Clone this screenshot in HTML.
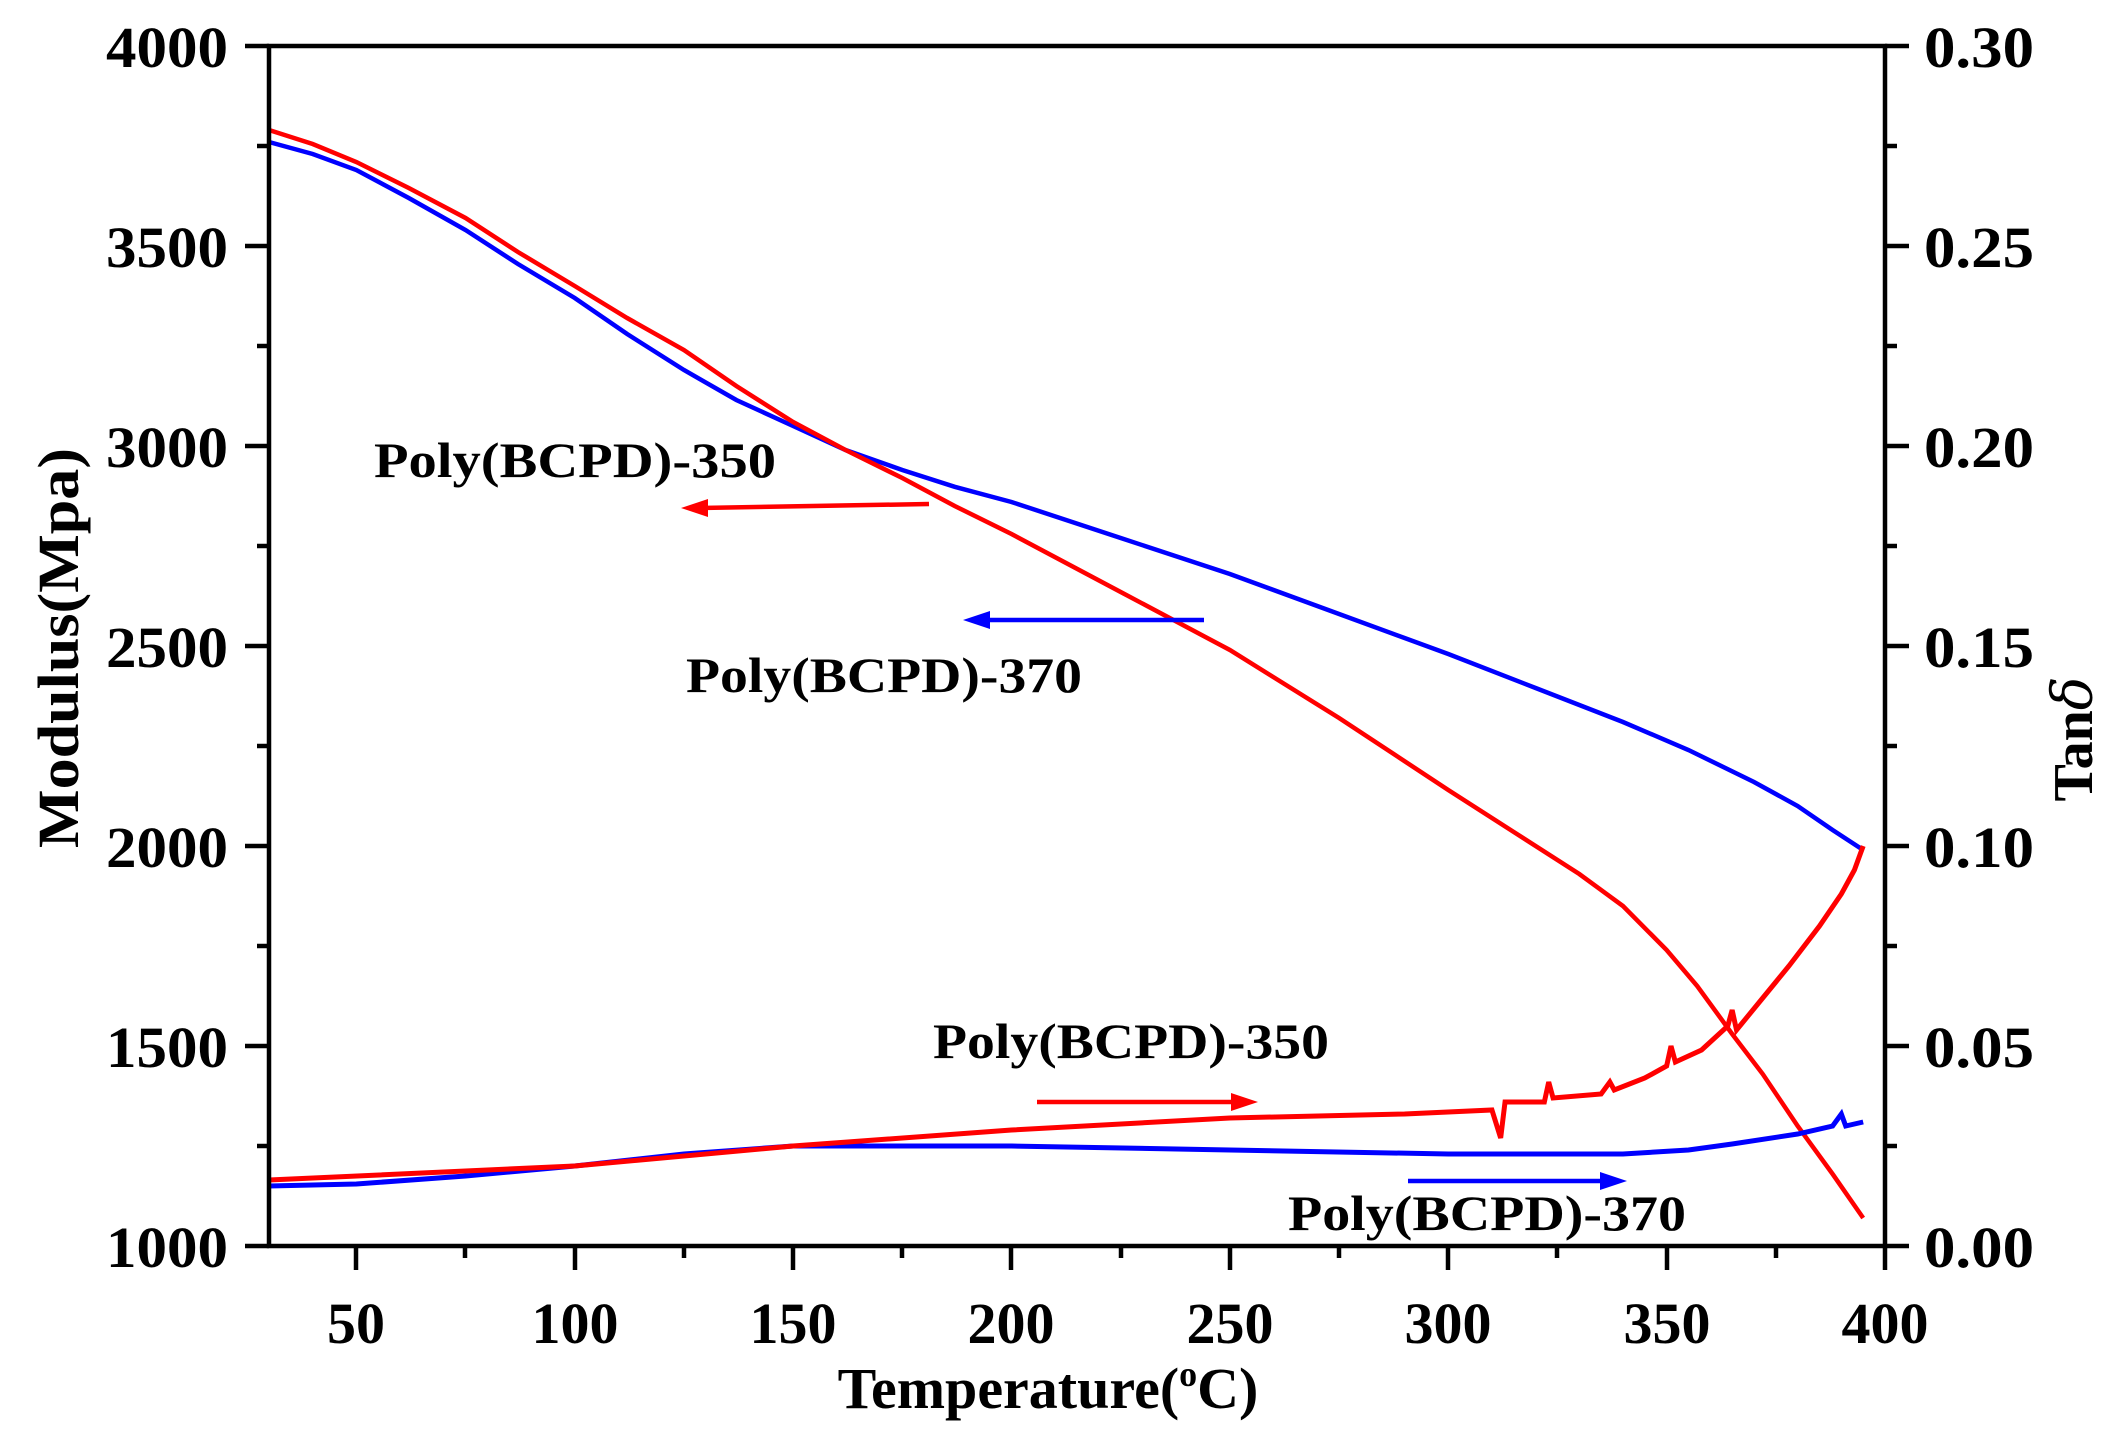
<!DOCTYPE html>
<html><head><style>
body{margin:0;background:#fff}
svg{display:block}
text{font-family:"Liberation Serif",serif;font-weight:bold;fill:#000}
</style></head><body>
<svg width="2115" height="1440" viewBox="0 0 2115 1440" xmlns="http://www.w3.org/2000/svg">
<rect width="2115" height="1440" fill="#fff"/>
<g transform="translate(269,1246) scale(4.3676,-0.4) translate(-30,-1000)" fill="none">
<polyline vector-effect="non-scaling-stroke" stroke-width="4.5" stroke="#00f" points="30,3760 40,3730 50,3690 62,3620 75,3540 87,3455 100,3370 112,3280 125,3190 137,3115 150,3050 162,2990 175,2940 187,2898 200,2860 225,2770 250,2680 275,2580 300,2480 320,2395 340,2310 355,2240 370,2160 380,2100 388,2040 395,1990"/>
<polyline vector-effect="non-scaling-stroke" stroke-width="4.5" stroke="#f00" points="30,3790 40,3755 50,3710 62,3645 75,3570 87,3485 100,3400 112,3320 125,3240 137,3150 150,3060 162,2990 175,2920 187,2850 200,2780 225,2635 250,2490 275,2320 300,2140 315,2035 330,1930 340,1850 350,1740 357,1650 365,1530 372,1430 380,1300 388,1180 395,1070"/>
</g>
<g transform="translate(269,1246) scale(4.3676,-4000) translate(-30,0)" fill="none">
<polyline vector-effect="non-scaling-stroke" stroke-width="5" stroke="#00f" points="30,0.015 50,0.0155 75,0.0175 100,0.020 125,0.023 150,0.025 200,0.025 250,0.024 300,0.023 340,0.023 355,0.024 365,0.0255 380,0.028 388,0.030 390,0.033 391,0.030 395,0.031"/>
<polyline vector-effect="non-scaling-stroke" stroke-width="5" stroke="#f00" points="30,0.0165 100,0.020 150,0.025 200,0.029 250,0.032 290,0.033 310,0.034 312,0.027 313,0.036 322,0.036 323,0.041 324,0.037 335,0.038 337,0.041 338,0.039 345,0.042 350,0.045 351,0.050 352,0.046 358,0.049 364,0.055 365,0.059 366,0.054 372,0.062 378,0.070 385,0.080 390,0.088 393,0.094 395,0.100"/>
</g>
<g stroke-width="4.5">
<line x1="929" y1="504" x2="700" y2="508" stroke="#f00"/><polygon points="681,508 708,499 708,517" fill="#f00"/>
<line x1="1204" y1="620" x2="980" y2="620" stroke="#00f"/><polygon points="963,620 990,611 990,629" fill="#00f"/>
<line x1="1037" y1="1102" x2="1240" y2="1102" stroke="#f00"/><polygon points="1258,1102 1231,1093 1231,1111" fill="#f00"/>
<line x1="1408" y1="1181" x2="1610" y2="1181" stroke="#00f"/><polygon points="1627,1181 1600,1172 1600,1190" fill="#00f"/>
</g>
<rect x="269" y="46" width="1616" height="1200" fill="none" stroke="#000" stroke-width="4.5"/>
<g stroke="#000" stroke-width="4.5">
<line x1="245" y1="46" x2="269" y2="46"/><line x1="245" y1="246" x2="269" y2="246"/><line x1="245" y1="446" x2="269" y2="446"/><line x1="245" y1="646" x2="269" y2="646"/><line x1="245" y1="846" x2="269" y2="846"/><line x1="245" y1="1046" x2="269" y2="1046"/><line x1="245" y1="1246" x2="269" y2="1246"/>
<line x1="257" y1="146" x2="269" y2="146"/><line x1="257" y1="346" x2="269" y2="346"/><line x1="257" y1="546" x2="269" y2="546"/><line x1="257" y1="746" x2="269" y2="746"/><line x1="257" y1="946" x2="269" y2="946"/><line x1="257" y1="1146" x2="269" y2="1146"/>
<line x1="1885" y1="46" x2="1909" y2="46"/><line x1="1885" y1="246" x2="1909" y2="246"/><line x1="1885" y1="446" x2="1909" y2="446"/><line x1="1885" y1="646" x2="1909" y2="646"/><line x1="1885" y1="846" x2="1909" y2="846"/><line x1="1885" y1="1046" x2="1909" y2="1046"/><line x1="1885" y1="1246" x2="1909" y2="1246"/>
<line x1="1885" y1="146" x2="1897" y2="146"/><line x1="1885" y1="346" x2="1897" y2="346"/><line x1="1885" y1="546" x2="1897" y2="546"/><line x1="1885" y1="746" x2="1897" y2="746"/><line x1="1885" y1="946" x2="1897" y2="946"/><line x1="1885" y1="1146" x2="1897" y2="1146"/>
<line x1="356" y1="1246" x2="356" y2="1270"/><line x1="575" y1="1246" x2="575" y2="1270"/><line x1="793" y1="1246" x2="793" y2="1270"/><line x1="1011" y1="1246" x2="1011" y2="1270"/><line x1="1230" y1="1246" x2="1230" y2="1270"/><line x1="1448" y1="1246" x2="1448" y2="1270"/><line x1="1667" y1="1246" x2="1667" y2="1270"/><line x1="1885" y1="1246" x2="1885" y2="1270"/>
<line x1="465" y1="1246" x2="465" y2="1258"/><line x1="684" y1="1246" x2="684" y2="1258"/><line x1="902" y1="1246" x2="902" y2="1258"/><line x1="1121" y1="1246" x2="1121" y2="1258"/><line x1="1339" y1="1246" x2="1339" y2="1258"/><line x1="1557" y1="1246" x2="1557" y2="1258"/><line x1="1776" y1="1246" x2="1776" y2="1258"/>
</g>
<g font-size="58" text-anchor="end">
<text x="228" y="67" textLength="122" lengthAdjust="spacingAndGlyphs">4000</text><text x="228" y="267" textLength="122" lengthAdjust="spacingAndGlyphs">3500</text><text x="228" y="467" textLength="122" lengthAdjust="spacingAndGlyphs">3000</text><text x="228" y="667" textLength="122" lengthAdjust="spacingAndGlyphs">2500</text><text x="228" y="867" textLength="122" lengthAdjust="spacingAndGlyphs">2000</text><text x="228" y="1067" textLength="122" lengthAdjust="spacingAndGlyphs">1500</text><text x="228" y="1267" textLength="122" lengthAdjust="spacingAndGlyphs">1000</text>
</g>
<g font-size="58">
<text x="1924" y="67" textLength="110" lengthAdjust="spacingAndGlyphs">0.30</text><text x="1924" y="267" textLength="110" lengthAdjust="spacingAndGlyphs">0.25</text><text x="1924" y="467" textLength="110" lengthAdjust="spacingAndGlyphs">0.20</text><text x="1924" y="667" textLength="110" lengthAdjust="spacingAndGlyphs">0.15</text><text x="1924" y="867" textLength="110" lengthAdjust="spacingAndGlyphs">0.10</text><text x="1924" y="1067" textLength="110" lengthAdjust="spacingAndGlyphs">0.05</text><text x="1924" y="1267" textLength="110" lengthAdjust="spacingAndGlyphs">0.00</text>
</g>
<g font-size="58" text-anchor="middle">
<text x="356" y="1343">50</text><text x="575" y="1343">100</text><text x="793" y="1343">150</text><text x="1011" y="1343">200</text><text x="1230" y="1343">250</text><text x="1448" y="1343">300</text><text x="1667" y="1343">350</text><text x="1885" y="1343">400</text>
</g>
<text x="1048" y="1408" font-size="58" text-anchor="middle">Temperature(<tspan font-size="36" dy="-22">o</tspan><tspan dy="22">C)</tspan></text>
<text transform="translate(78,648) rotate(-90)" font-size="58" text-anchor="middle" textLength="400" lengthAdjust="spacingAndGlyphs">Modulus(Mpa)</text>
<text transform="translate(2092,739) rotate(-90)" font-size="56" text-anchor="middle">Tan<tspan font-style="italic" font-family="DejaVu Serif, serif" font-weight="normal">δ</tspan></text>
<g font-size="50">
<text x="374" y="477" textLength="402" lengthAdjust="spacingAndGlyphs">Poly(BCPD)-350</text>
<text x="686" y="692" textLength="396" lengthAdjust="spacingAndGlyphs">Poly(BCPD)-370</text>
<text x="933" y="1058" textLength="396" lengthAdjust="spacingAndGlyphs">Poly(BCPD)-350</text>
<text x="1288" y="1230" textLength="398" lengthAdjust="spacingAndGlyphs">Poly(BCPD)-370</text>
</g>
</svg>
</body></html>
